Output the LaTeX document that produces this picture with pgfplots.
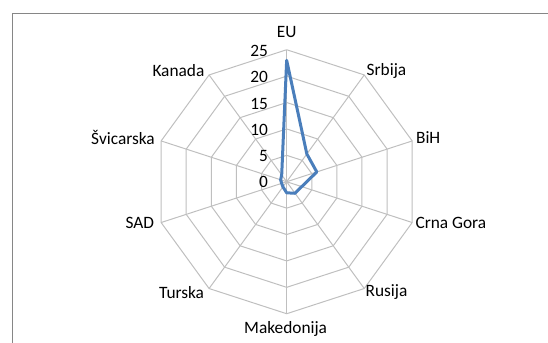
\documentclass[border=0pt]{standalone}
\usepackage{fontspec}
\setmainfont{Carlito}
\usepackage{pgfplots}
\pgfplotsset{compat=1.18}
\definecolor{serblue}{RGB}{74,126,187}
\definecolor{gridc}{RGB}{191,191,191}
\definecolor{framec}{RGB}{134,134,134}
\tikzset{lab/.style={font=\fontsize{13}{15}\selectfont, inner sep=0pt, text=black}}
\begin{document}
\begin{tikzpicture}
\path[use as bounding box] (-215pt,-120.2pt) rectangle (196pt,136.3pt);
\clip (-215pt,-120.2pt) rectangle (196pt,136.3pt);
\draw[framec, line width=0.75pt] (-205.9pt,-140pt) rectangle (210pt,126.3pt);
\begin{axis}[hide axis, x=3.96pt, y=3.96pt,
  xmin=-25, xmax=25, ymin=-25, ymax=25,
  clip=false, anchor=origin, at={(0,0)}]
% grid polygons
\pgfplotsinvokeforeach{5,10,15,20,25}{
  \addplot[gridc, line width=0.75pt, data cs=polar, mark=none] coordinates {(90,#1) (54,#1) (18,#1) (-18,#1) (-54,#1) (-90,#1) (-126,#1) (-162,#1) (162,#1) (126,#1) (90,#1)};
}
% spokes
\pgfplotsinvokeforeach{90,54,18,-18,-54,-90,-126,-162,162,126}{
  \addplot[gridc, line width=0.75pt, data cs=polar, mark=none] coordinates {(#1,0) (#1,25)};
}
% data
\addplot[serblue, line width=2.25pt, line join=round, data cs=polar, mark=none] coordinates {
(90,23) (54,6.5) (18,6) (-18,3) (-54,2.7) (-90,2.1) (-126,1.2) (-162,1.0) (162,1.2) (126,1.6) (90,23) (54,6.5)};
% category labels
\node[lab] at (axis cs:0,28.3) {EU};
\node[lab] at (axis cs:18.9,21.0) {Srbija};
\node[lab] at (axis cs:26.8,8.3) {BiH};
\node[lab] at (axis cs:31.1,-7.8) {Crna Gora};
\node[lab] at (axis cs:18.9,-20.9) {Rusija};
\node[lab] at (axis cs:-0.2,-27.8) {Makedonija};
\node[lab] at (axis cs:-19.9,-20.9) {Turska};
\node[lab] at (axis cs:-27.8,-7.8) {SAD};
\node[lab] at (axis cs:-31.0,8.3) {Švicarska};
\node[lab] at (axis cs:-20.5,21.0) {Kanada};
% value labels
\node[lab, anchor=east] at (axis cs:-3.5,24.8) {25};
\node[lab, anchor=east] at (axis cs:-3.5,19.8) {20};
\node[lab, anchor=east] at (axis cs:-3.5,14.8) {15};
\node[lab, anchor=east] at (axis cs:-3.5,9.8) {10};
\node[lab, anchor=east] at (axis cs:-3.5,4.8) {5};
\node[lab, anchor=east] at (axis cs:-3.5,-0.1) {0};
\end{axis}
\end{tikzpicture}
\end{document}
